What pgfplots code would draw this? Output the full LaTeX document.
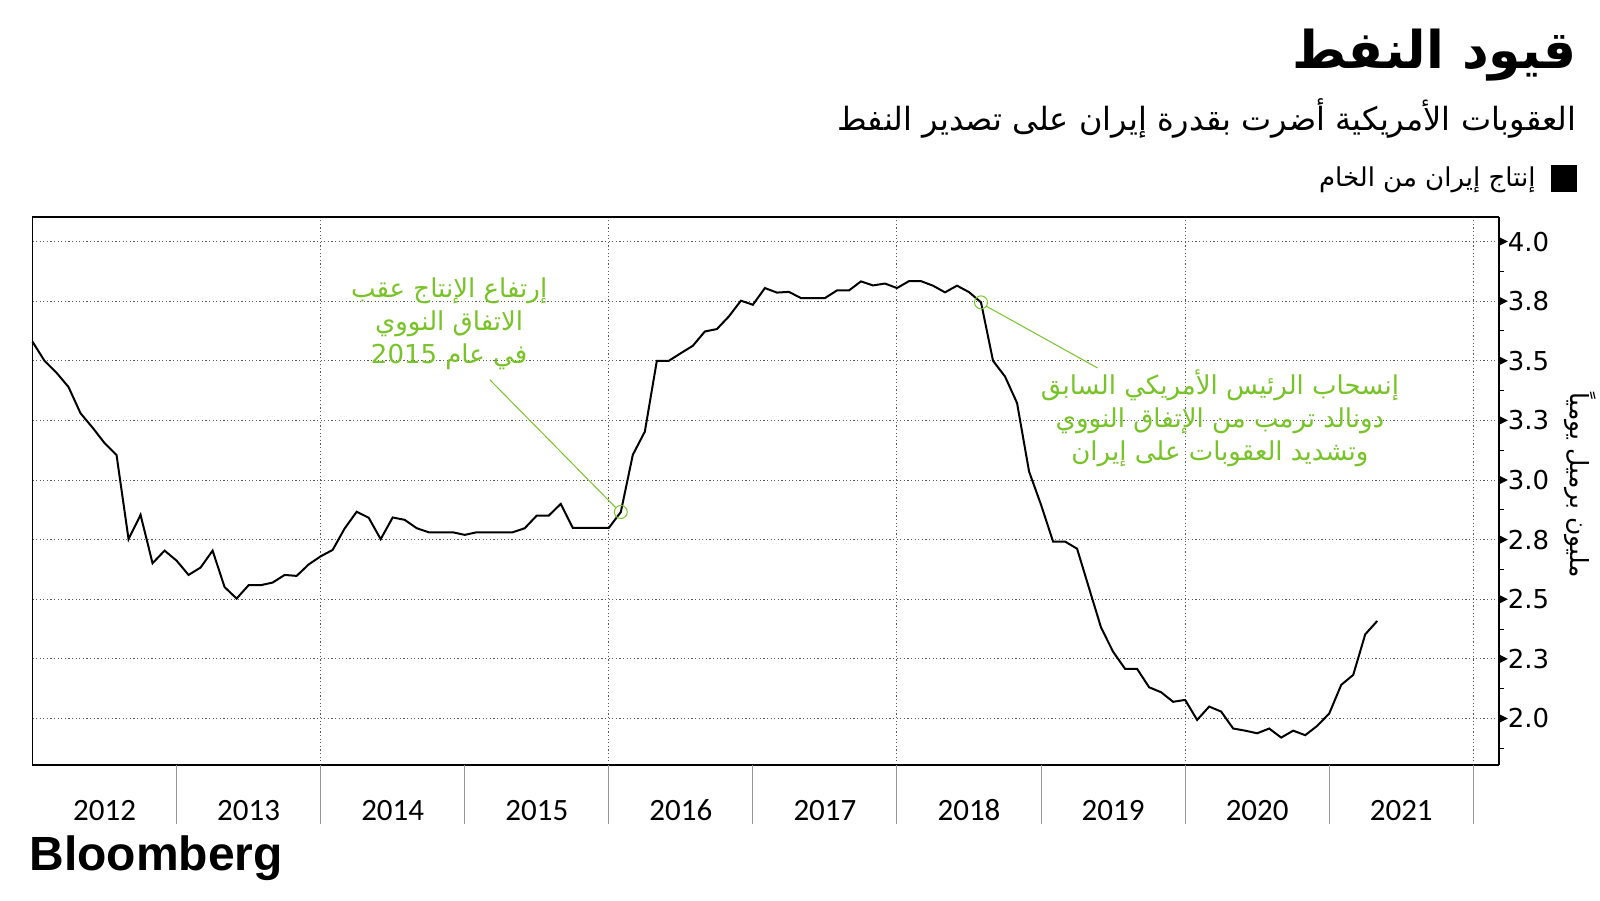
\documentclass[border=0pt]{standalone}
\usepackage{fontspec}
\usepackage{pgfplots}
\usepackage{pgfplotstable}
\pgfplotsset{compat=1.18}
\setmainfont{DejaVu Sans}
\newfontfamily\ar[Script=Arabic]{DejaVu Sans}
\newfontfamily\yr{Carlito}
\newfontfamily\bb{Liberation Sans}
\TeXXeTstate=1
\definecolor{anno}{RGB}{120,195,40}
\definecolor{sep}{RGB}{150,150,150}
\newcommand\tri{\tikz[baseline=0pt]\fill[black] (0pt,2.5pt)--(4.5pt,4.75pt)--(0pt,7pt)--cycle;}

% month index from Jan 2012, crude oil output (million bbl/day)
\pgfplotstableread{
m v
0 3.58
1 3.50
2 3.45
3 3.39
4 3.28
5 3.22
6 3.155
7 3.105
8 2.752
9 2.854
10 2.651
11 2.704
12 2.662
13 2.602
14 2.633
15 2.704
16 2.551
17 2.503
18 2.559
19 2.559
20 2.570
21 2.602
22 2.598
23 2.646
24 2.680
25 2.707
26 2.797
27 2.867
28 2.842
29 2.752
30 2.843
31 2.833
32 2.798
33 2.781
34 2.781
35 2.781
36 2.770
37 2.781
38 2.781
39 2.781
40 2.781
41 2.798
42 2.851
43 2.851
44 2.900
45 2.799
46 2.799
47 2.799
48 2.799
49 2.866
50 3.106
51 3.203
52 3.50
53 3.50
54 3.532
55 3.563
56 3.623
57 3.633
58 3.686
59 3.752
60 3.735
61 3.805
62 3.786
63 3.789
64 3.763
65 3.763
66 3.763
67 3.795
68 3.795
69 3.833
70 3.816
71 3.824
72 3.805
73 3.834
74 3.834
75 3.815
76 3.787
77 3.815
78 3.788
79 3.745
80 3.50
81 3.434
82 3.323
83 3.036
84 2.896
85 2.742
86 2.742
87 2.712
88 2.546
89 2.381
90 2.280
91 2.208
92 2.208
93 2.131
94 2.110
95 2.070
96 2.078
97 1.994
98 2.050
99 2.029
100 1.958
101 1.949
102 1.938
103 1.958
104 1.920
105 1.949
106 1.930
107 1.969
108 2.021
109 2.141
110 2.183
111 2.353
112 2.409
}\oil

\begin{document}
\begin{tikzpicture}[x=0.5pt,y=0.5pt]
\useasboundingbox (0,0) rectangle (1600,900);
\begin{axis}[
  at={(16.25pt,67.5pt)}, anchor=south west,
  scale only axis, width=733pt, height=274pt,
  xmin=0, xmax=122.1, ymin=1.805, ymax=4.103,
  clip=false,
  axis line style={line width=0.6pt},
  tick align=outside,
  major tick length=0pt, minor tick length=2.5pt,
  tick style={black, line width=0.5pt},
  xtick pos=left, ytick pos=right, yticklabel pos=right,
  xtick={6,18,30,42,54,66,78,90,102,114},
  xticklabels={2012,2013,2014,2015,2016,2017,2018,2019,2020,2021},
  minor xtick={24,48,72,96,120},
  minor x tick style={draw=none},
  extra x ticks={12,24,36,48,60,72,84,96,108,120},
  extra x tick labels={},
  extra x tick style={major tick length=29.5pt, major tick style={sep, line width=0.5pt}},
  ytick={2,2.25,2.5,2.75,3,3.25,3.5,3.75,4},
  yticklabels={\tri2.0,\tri2.3,\tri2.5,\tri2.8,\tri3.0,\tri3.3,\tri3.5,\tri3.8,\tri4.0},
  minor ytick={1.875,2.125,2.375,2.625,2.875,3.125,3.375,3.625,3.875},
  ymajorgrids, xminorgrids,
  grid style={dash pattern=on 0.6pt off 1.2pt, black!65, line width=0.5pt},
  xticklabel style={font=\yr\fontsize{15.5}{18}\selectfont, anchor=base, yshift=-27.5pt},
  yticklabel style={font=\fontsize{13}{15}\selectfont, anchor=west, inner sep=0pt},
]
\addplot[black, line width=1pt] table[x=m, y=v] {\oil};
\addplot[only marks, mark=o, mark size=3.25pt, anno, mark options={line width=0.5pt}]
  coordinates {(49,2.866) (79,3.745)};
\draw[line width=1pt] (rel axis cs:1,0) -- (rel axis cs:1,1);
\draw[anno, line width=0.5pt] (axis cs:38.1,3.42) -- (axis cs:48.6,2.883);
\draw[anno, line width=0.5pt] (axis cs:88.7,3.47) -- (axis cs:79.4,3.730);
\node[anno, align=center, font=\ar\fontsize{13}{16.5}\selectfont] at (axis cs:34.7,3.655)
  {\beginR إرتفاع الإنتاج عقب\endR\\\beginR الاتفاق النووي\endR\\\beginR في عام \beginL 2015\endL{}\endR};
\node[anno, align=center, font=\ar\fontsize{13}{16.5}\selectfont] at (axis cs:98.9,3.261)
  {\beginR إنسحاب الرئيس الأمريكي السابق\endR\\\beginR دونالد ترمب من الإتفاق النووي\endR\\\beginR وتشديد العقوبات على إيران\endR};
\end{axis}
\node[anchor=base east, inner sep=0pt, font=\ar\bfseries\fontsize{26}{30}\selectfont] at (1577,831) {\beginR قيود النفط\endR};
\node[anchor=base east, inner sep=0pt, font=\ar\fontsize{16}{19}\selectfont] at (1577,769) {\beginR العقوبات الأمريكية أضرت بقدرة إيران على تصدير النفط\endR};
\fill (1551,708) rectangle (1577,735);
\node[anchor=base east, inner sep=0pt, font=\ar\fontsize{13}{16}\selectfont] at (1536,713) {\beginR إنتاج إيران من الخام\endR};
\node[rotate=-90, inner sep=0pt, font=\ar\fontsize{12.5}{15}\selectfont] at (1580,415) {\beginR مليون برميل يومياً\endR};
\node[anchor=base west, inner sep=0pt, font=\bb\bfseries\fontsize{24}{27}\selectfont] at (29,30) {Bloomberg};
\end{tikzpicture}
\end{document}
